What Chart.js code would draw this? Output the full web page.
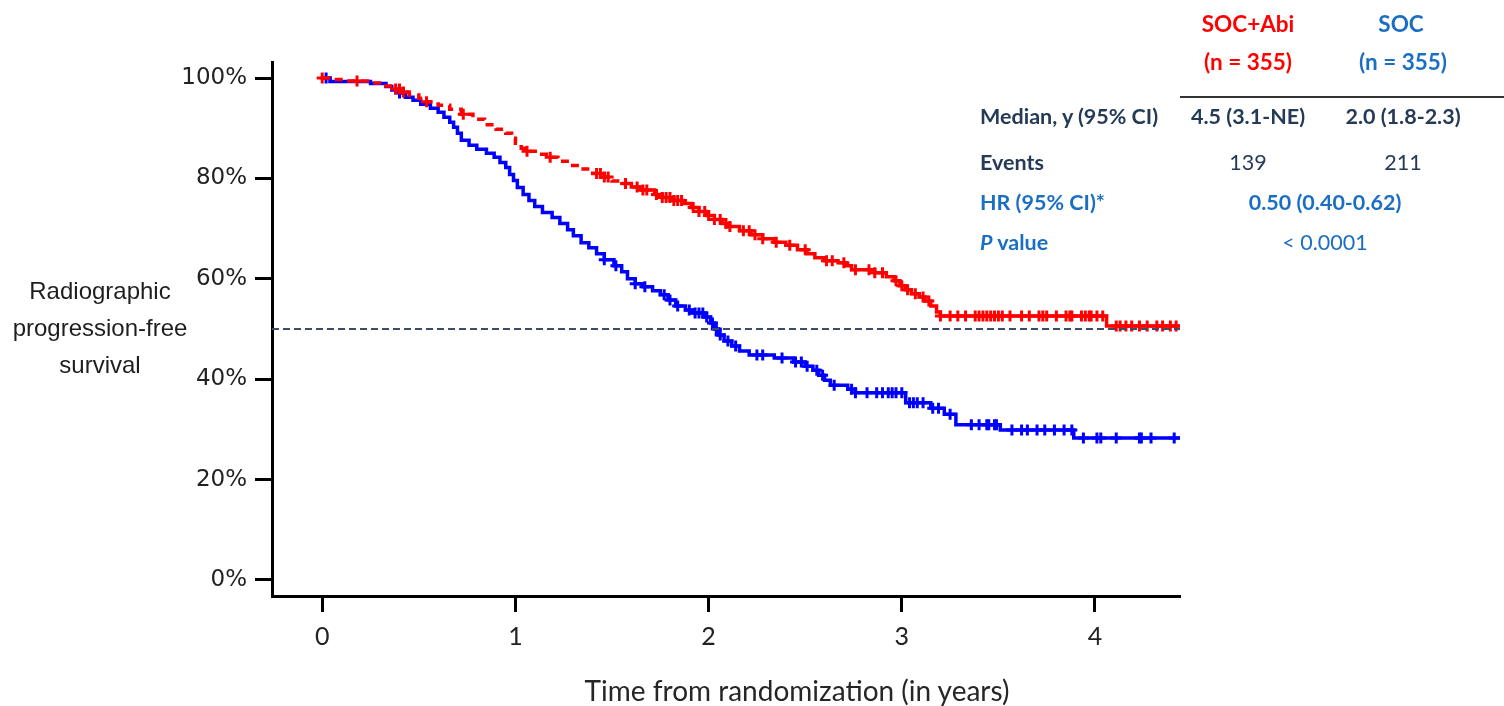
<!DOCTYPE html>
<html>
<head>
<meta charset="utf-8">
<script src="https://cdn.jsdelivr.net/npm/chart.js@4.4.1/dist/chart.umd.min.js"></script>
<style>
  html, body { margin: 0; padding: 0; background: #fff; }
  #wrap { position: relative; width: 1504px; height: 706px; overflow: hidden; }
  canvas { position: absolute; left: 0; top: 0; }
  .t { position: absolute; white-space: nowrap; transform: translate(-50%, -50%); line-height: 1; }
  .l { position: absolute; white-space: nowrap; transform: translate(0, -50%); line-height: 1; }
  .cal { font-family: Lato, "Open Sans", sans-serif; font-size: 21.5px; }
  .hd { font-size: 22.5px; }
  .b { font-weight: 700; }
  .red { color: #ff0000; }
  .blue { color: #1a6fc4; }
  .navy { color: #243a57; }
  .ylab { position: absolute; left: 100px; top: 327px; transform: translate(-50%, -50%);
          font-family: "Liberation Sans", Arial, sans-serif; font-size: 24px; line-height: 37px;
          text-align: center; color: #1e1e1e; white-space: nowrap; }
  .xlab { font-family: Lato, "Open Sans", sans-serif; font-size: 28px; color: #262626; }
  .rule { position: absolute; left: 1180px; top: 96px; width: 324px; height: 2px; background: #333; }
</style>
</head>
<body>
<div id="wrap">
  <canvas id="km" width="1504" height="706"></canvas>

  <div class="ylab">Radiographic<br>progression-free<br>survival</div>
  <div class="t xlab" style="left:797px; top:690px;">Time from randomization (in years)</div>

  <div class="t cal hd b red"  style="left:1248px; top:24px;">SOC+Abi</div>
  <div class="t cal hd b red"  style="left:1248px; top:62px;">(n = 355)</div>
  <div class="t cal hd b blue" style="left:1401px; top:24px;">SOC</div>
  <div class="t cal hd b blue" style="left:1403px; top:62px;">(n = 355)</div>
  <div class="rule"></div>

  <div class="l cal b navy" style="left:980px; top:117px;">Median, y (95% CI)</div>
  <div class="t cal b navy" style="left:1248px; top:117px;">4.5 (3.1-NE)</div>
  <div class="t cal b navy" style="left:1403px; top:117px;">2.0 (1.8-2.3)</div>

  <div class="l cal b navy" style="left:980px; top:163px;">Events</div>
  <div class="t cal navy"   style="left:1248px; top:163px;">139</div>
  <div class="t cal navy"   style="left:1403px; top:163px;">211</div>

  <div class="l cal b blue" style="left:980px; top:203px;">HR (95% CI)*</div>
  <div class="t cal b blue" style="left:1325px; top:203px;">0.50 (0.40-0.62)</div>

  <div class="l cal b blue" style="left:980px; top:243px;"><i>P</i> value</div>
  <div class="t cal blue"   style="left:1325px; top:243px;">&lt; 0.0001</div>
</div>

<script>
// Kaplan-Meier steps: event times (years) and survival (%) after each event;
// the last entry of each arm is the end of follow-up
const abiTimes = [0, 0.05, 0.12, 0.25, 0.32, 0.38, 0.42, 0.45, 0.50, 0.54, 0.60, 0.66, 0.72, 0.78, 0.84,
  0.90, 0.95, 0.98, 1.00, 1.03, 1.06, 1.12, 1.16, 1.22, 1.28, 1.34, 1.40, 1.46, 1.50, 1.55, 1.60,
  1.65, 1.72, 1.76, 1.82, 1.87, 1.91, 1.95, 1.99, 2.03, 2.07, 2.10, 2.16, 2.22, 2.28, 2.34, 2.40,
  2.46, 2.51, 2.55, 2.60, 2.67, 2.71, 2.74, 2.86, 2.92, 2.96, 2.99, 3.02, 3.05, 3.09, 3.12, 3.15,
  3.18, 3.20, 4.06, 4.50];
const abiSurv = [100, 99.7, 99.4, 99.0, 98.4, 97.8, 97.2, 96.6, 96.0, 95.3, 94.6, 93.8, 92.8, 91.8, 90.7,
  89.8, 89.0, 88.0, 87.0, 86.0, 85.4, 84.8, 84.2, 83.4, 82.6, 81.9, 81.0, 80.3, 79.5, 79.0, 78.3,
  77.7, 76.8, 76.2, 75.6, 75.0, 74.2, 73.4, 72.6, 71.8, 71.0, 70.4, 69.6, 68.8, 68.0, 67.3, 66.7,
  65.8, 65.0, 64.2, 63.6, 63.2, 62.6, 61.8, 61.2, 60.4, 59.6, 58.6, 57.8, 57.0, 56.4, 55.6, 54.6,
  53.4, 52.6, 50.6, 46.8];

const socTimes = [0, 0.04, 0.25, 0.33, 0.36, 0.40, 0.43, 0.47, 0.51, 0.56, 0.60, 0.63, 0.66, 0.68, 0.70,
  0.72, 0.76, 0.80, 0.85, 0.89, 0.92, 0.95, 0.97, 0.99, 1.01, 1.04, 1.07, 1.10, 1.14, 1.19, 1.23,
  1.27, 1.30, 1.34, 1.38, 1.42, 1.46, 1.51, 1.55, 1.58, 1.62, 1.66, 1.71, 1.75, 1.79, 1.83, 1.88,
  1.92, 1.98, 2.01, 2.03, 2.05, 2.08, 2.12, 2.16, 2.21, 2.34, 2.44, 2.50, 2.54, 2.57, 2.60, 2.63,
  2.72, 2.76, 3.02, 3.15, 3.22, 3.28, 3.51, 3.89, 4.50];
const socSurv = [100, 99.3, 98.9, 98.3, 97.6, 97.0, 96.2, 95.6, 94.8, 94.0, 93.2, 92.2, 91.2, 90.2, 89.0,
  87.6, 86.6, 85.8, 85.0, 84.2, 83.2, 82.2, 80.8, 79.6, 78.2, 76.8, 75.6, 74.4, 73.2, 72.2, 71.0,
  69.8, 68.6, 67.2, 66.2, 65.0, 63.8, 62.6, 61.4, 60.0, 59.0, 58.4, 57.6, 56.8, 55.8, 54.6, 53.8,
  53.2, 52.4, 51.2, 50.0, 48.8, 47.6, 46.6, 45.6, 44.8, 44.2, 43.4, 42.6, 41.8, 40.8, 39.8, 38.8,
  38.0, 37.3, 35.3, 34.2, 33.0, 30.9, 29.9, 28.3, 28.3];

// Censoring times (years)
const abiCensor = [0.0, 0.18, 0.38, 0.40, 0.42, 0.54, 0.73, 1.06, 1.18, 1.42, 1.44, 1.46, 1.48, 1.57,
  1.63, 1.66, 1.68, 1.73, 1.76, 1.78, 1.80, 1.82, 1.84, 1.86, 1.92, 1.95, 1.98, 2.00, 2.03, 2.06,
  2.09, 2.11, 2.18, 2.21, 2.24, 2.28, 2.35, 2.42, 2.50, 2.61, 2.64, 2.70, 2.76, 2.83, 2.86, 2.90,
  2.97, 3.00, 3.03, 3.07, 3.11, 3.14, 3.20, 3.25, 3.29, 3.33, 3.38, 3.40, 3.42, 3.44, 3.46, 3.48,
  3.50, 3.52, 3.56, 3.62, 3.66, 3.71, 3.73, 3.75, 3.80, 3.85, 3.87, 3.88, 3.93, 3.95, 3.97, 3.98,
  4.01, 4.04, 4.11, 4.13, 4.16, 4.19, 4.23, 4.27, 4.32, 4.35, 4.39, 4.42];
const socCensor = [0.02, 0.40, 1.46, 1.52, 1.62, 1.67, 1.77, 1.80, 1.84, 1.90, 1.93, 1.95, 1.97, 1.99,
  2.02, 2.04, 2.06, 2.10, 2.14, 2.25, 2.28, 2.38, 2.45, 2.48, 2.51, 2.56, 2.59, 2.65, 2.74, 2.76,
  2.82, 2.87, 2.90, 2.93, 2.95, 2.97, 3.00, 3.04, 3.06, 3.08, 3.11, 3.16, 3.19, 3.25, 3.36, 3.40,
  3.44, 3.45, 3.48, 3.49, 3.57, 3.62, 3.65, 3.70, 3.74, 3.79, 3.84, 3.88, 3.94, 4.01, 4.03, 4.11,
  4.23, 4.24, 4.29, 4.41];

const xTicks = [0, 1, 2, 3, 4];
const yTicks = [0, 20, 40, 60, 80, 100];
const medianLevel = 50;

const X_MIN = -0.26, X_MAX = 4.44, Y_MIN = -3.2, Y_MAX = 103.2;

function steps(times, surv) {
  return times.map((t, i) => ({ x: t, y: surv[i] }));
}
function survivalAt(times, surv, t) {
  let s = surv[0];
  for (let i = 0; i < times.length; i++) { if (times[i] <= t) s = surv[i]; else break; }
  return s;
}
function censorPoints(cens, times, surv) {
  return cens.map(t => ({ x: t, y: survivalAt(times, surv, t) }));
}

const RED = '#ff0000', BLUE = '#0000ff';

new Chart(document.getElementById('km'), {
  type: 'line',
  data: {
    datasets: [
      { // 50% reference line
        data: [{ x: X_MIN, y: medianLevel }, { x: X_MAX, y: medianLevel }],
        borderColor: '#3b4d68', borderWidth: 2, borderDash: [7, 4], pointRadius: 0
      },
      {
        label: 'SOC+Abi',
        data: censorPoints(abiCensor, abiTimes, abiSurv),
        showLine: false, pointStyle: 'cross', pointRadius: 5.5,
        pointBorderWidth: 3, borderColor: RED, backgroundColor: RED
      },
      {
        label: 'SOC+Abi',
        data: steps(abiTimes, abiSurv),
        stepped: true, borderColor: RED, borderWidth: 3.5, pointRadius: 0,
        segment: { borderDash: ctx => ctx.p0.parsed.x < 1.55 ? [8, 6] : undefined }
      },
      {
        label: 'SOC',
        data: censorPoints(socCensor, socTimes, socSurv),
        showLine: false, pointStyle: 'cross', pointRadius: 5.5,
        pointBorderWidth: 3, borderColor: BLUE, backgroundColor: BLUE
      },
      {
        label: 'SOC',
        data: steps(socTimes, socSurv),
        stepped: true, borderColor: BLUE, borderWidth: 3.5, pointRadius: 0
      }
    ]
  },
  options: {
    responsive: false,
    animation: false,
    layout: { padding: { left: 0, top: 62, right: 324, bottom: 0 } },
    plugins: { legend: { display: false }, tooltip: { enabled: false }, title: { display: false } },
    scales: {
      x: {
        type: 'linear', min: X_MIN, max: X_MAX,
        border: { display: true, color: '#000', width: 3 },
        grid: { display: true, drawOnChartArea: false, drawTicks: true, tickLength: 16, tickWidth: 3, tickColor: '#000' },
        ticks: { color: '#222', padding: 10, font: { family: 'Lato', size: 25 } },
        afterBuildTicks: s => { s.ticks = xTicks.map(v => ({ value: v })); },
        afterFit: s => { s.height = 110; }
      },
      y: {
        type: 'linear', min: Y_MIN, max: Y_MAX,
        border: { display: true, color: '#000', width: 3 },
        grid: { display: true, drawOnChartArea: false, drawTicks: true, tickLength: 17, tickWidth: 3, tickColor: '#000' },
        ticks: { color: '#222', padding: 8, font: { family: 'DejaVu Sans', size: 23 }, callback: v => v + '%' },
        afterBuildTicks: s => { s.ticks = yTicks.map(v => ({ value: v })); },
        afterFit: s => { s.width = 272; }
      }
    }
  }
});
</script>
</body>
</html>
